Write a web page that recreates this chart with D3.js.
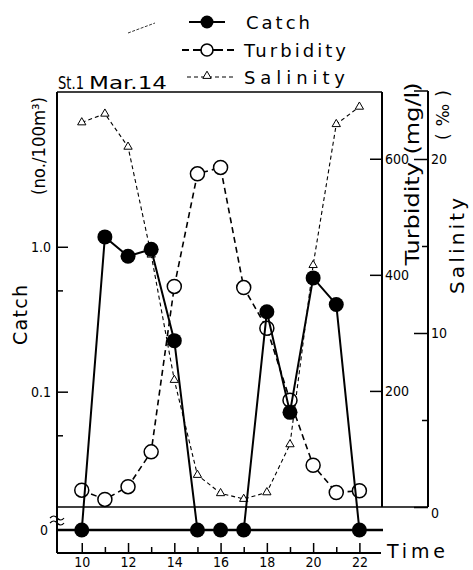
<!DOCTYPE html>
<html lang="en">
<head>
<meta charset="UTF-8">
<title>Catch, turbidity and salinity - St.1 Mar.14</title>
<style>
  body { margin: 0; background: #fff; }
  svg text { fill: #000; }
  .tick text { font-family: "Liberation Sans Narrow", "DejaVu Sans Condensed", "Liberation Sans", sans-serif; font-size: 14px; }
</style>
</head>
<body>
<script src="https://d3js.org/d3.v7.min.js"></script>
<script>
// data (hour of day)
const hours = [10, 11, 12, 13, 14, 15, 16, 17, 18, 19, 20, 21, 22];
const catchValues = [0, 1.17, 0.86, 0.96, 0.225, 0, 0, 0, 0.356, 0.072, 0.61, 0.40, 0];   // no./100m3, log scale
const turbidityValues = [29, 13, 35, 95, 380, 574, 585, 378, 308, 184, 72, 25, 28];      // mg/l
const salinityValues = [22.1, 22.6, 20.7, 14.5, 7.3, 1.84, 0.79, 0.46, 0.84, 3.6, 13.9, 22.0, 23.0]; // per mil

const timeTicks = [10, 12, 14, 16, 18, 20, 22];
const timeMinorTicks = [11, 13, 15, 17, 19, 21];
const catchTicks = [0.1, 1.0];
const catchMinorTicks = [0.05, 0.5];
const turbidityTicks = [200, 400, 600];
const salinityTicks = [0, 10, 20];
const salinityMinorTicks = [5, 15];
const legendNames = ["Catch", "Turbidity", "Salinity"];

const W = 473, H = 570;
const pLeft = 57, pRight = 383, pTop = 92, pBottom = 507;
const zeroY = 530, timeY = 553;
const turbX = 382, salX = 428;

const svg = d3.select("body").append("svg")
    .attr("width", W)
    .attr("height", H);

const x = d3.scaleLinear().domain([8.93, 23.02]).range([pLeft, pRight]);
const yCatch = d3.scaleLog().domain([0.016, 11.7]).range([pBottom, pTop]);
const yTurb = d3.scaleLinear().domain([0, 715]).range([pBottom, pTop]);
const ySal = d3.scaleLinear().domain([0, 23.85]).range([pBottom, pTop]);
const catchY = v => v === 0 ? zeroY : yCatch(v);

// frame lines
const frame = svg.append("g").attr("stroke", "#000").attr("fill", "none");
frame.append("line").attr("x1", pLeft).attr("x2", pLeft).attr("y1", pTop).attr("y2", timeY).attr("stroke-width", 2);
frame.append("line").attr("x1", pLeft).attr("x2", turbX).attr("y1", pTop).attr("y2", pTop).attr("stroke-width", 1.5);
frame.append("line").attr("x1", turbX).attr("x2", turbX).attr("y1", pTop).attr("y2", pBottom).attr("stroke-width", 2);
frame.append("line").attr("x1", salX).attr("x2", salX).attr("y1", pTop - 1).attr("y2", pBottom).attr("stroke-width", 2);
frame.append("line").attr("x1", salX - 14).attr("x2", salX).attr("y1", pTop - 1).attr("y2", pTop - 1).attr("stroke-width", 1.5);
frame.append("line").attr("x1", pLeft).attr("x2", salX).attr("y1", pBottom).attr("y2", pBottom).attr("stroke-width", 1.5);
frame.append("line").attr("x1", pLeft).attr("x2", pRight).attr("y1", zeroY).attr("y2", zeroY).attr("stroke-width", 2.5);
frame.append("line").attr("x1", pLeft).attr("x2", pRight - 2).attr("y1", timeY).attr("y2", timeY).attr("stroke-width", 2);

// axis break on the catch axis
[0, 5].forEach(function(off){
    frame.append("path")
        .attr("d", `M${pLeft - 7},${518 + off} q4,-4 7,0 q4,4 7,0`)
        .attr("stroke-width", 1.2);
});

function clean(g){
    g.select(".domain").remove();
    g.selectAll(".tick line").attr("stroke", "#000").attr("stroke-width", 1.5);
}

// time axis
svg.append("g").attr("transform", `translate(0,${timeY})`)
    .call(d3.axisBottom(x).tickValues(timeTicks).tickSize(-10).tickPadding(4).tickFormat(d3.format("d")))
    .call(clean);
svg.append("g").attr("transform", `translate(0,${timeY})`)
    .call(d3.axisBottom(x).tickValues(timeMinorTicks).tickSize(-6).tickFormat(""))
    .call(clean);

// catch axis (log)
svg.append("g").attr("transform", `translate(${pLeft},0)`)
    .call(d3.axisLeft(yCatch).tickValues(catchTicks).tickSize(-11).tickPadding(6).tickFormat(d => d.toFixed(1)))
    .call(clean);
svg.append("g").attr("transform", `translate(${pLeft},0)`)
    .call(d3.axisLeft(yCatch).tickValues(catchMinorTicks).tickSize(-6).tickFormat(""))
    .call(clean);
svg.append("text").attr("x", pLeft - 9).attr("y", zeroY + 5).attr("text-anchor", "end")
    .style("font-family", "Liberation Sans Narrow, DejaVu Sans Condensed, sans-serif").style("font-size", "14px")
    .text("0");

// turbidity axis
svg.append("g").attr("transform", `translate(${turbX},0)`)
    .call(d3.axisRight(yTurb).tickValues(turbidityTicks).tickSize(-12).tickPadding(3).tickFormat(d3.format("d")))
    .call(clean);

// salinity axis
svg.append("g").attr("transform", `translate(${salX},0)`)
    .call(d3.axisRight(ySal).tickValues(salinityTicks).tickSize(-14).tickPadding(3).tickFormat(d3.format("d")))
    .call(clean)
    .call(g => g.selectAll(".tick text").filter(d => d === 0).attr("dy", "0.75em"));
svg.append("g").attr("transform", `translate(${salX},0)`)
    .call(d3.axisRight(ySal).tickValues(salinityMinorTicks).tickSize(-6).tickFormat(""))
    .call(clean);

// series
const lineCatch = d3.line().x((d, i) => x(hours[i])).y(d => catchY(d));
const lineTurb = d3.line().x((d, i) => x(hours[i])).y(d => yTurb(d));
const lineSal = d3.line().x((d, i) => x(hours[i])).y(d => ySal(d));

svg.append("path").datum(salinityValues)
    .attr("d", lineSal).attr("fill", "none").attr("stroke", "#000")
    .attr("stroke-width", 1.1).attr("stroke-dasharray", "4,3");
svg.append("path").datum(turbidityValues)
    .attr("d", lineTurb).attr("fill", "none").attr("stroke", "#000")
    .attr("stroke-width", 1.6).attr("stroke-dasharray", "6,4");

const tri = d3.symbol().type(d3.symbolTriangle).size(30);
svg.selectAll(".sal").data(salinityValues).enter().append("path")
    .attr("class", "sal")
    .attr("d", tri)
    .attr("transform", (d, i) => `translate(${x(hours[i])},${ySal(d)})`)
    .attr("fill", "#fff").attr("stroke", "#000").attr("stroke-width", 1);

svg.selectAll(".turb").data(turbidityValues).enter().append("circle")
    .attr("class", "turb")
    .attr("cx", (d, i) => x(hours[i]))
    .attr("cy", d => yTurb(d))
    .attr("r", 7)
    .attr("fill", "#fff").attr("stroke", "#000").attr("stroke-width", 1.5);

svg.append("path").datum(catchValues)
    .attr("d", lineCatch).attr("fill", "none").attr("stroke", "#000").attr("stroke-width", 2);
svg.selectAll(".catch").data(catchValues).enter().append("circle")
    .attr("class", "catch")
    .attr("cx", (d, i) => x(hours[i]))
    .attr("cy", d => catchY(d))
    .attr("r", 7.5)
    .attr("fill", "#000");

// legend
const legend = svg.append("g");
const legY = [22, 50, 77];
const legText = [[246, 64], [244, 102], [244, 101]];
legendNames.forEach(function(name, i){
    const g = legend.append("g");
    if (i === 0) {
        g.append("line").attr("x1", 189).attr("x2", 225).attr("y1", legY[i]).attr("y2", legY[i])
            .attr("stroke", "#000").attr("stroke-width", 2);
        g.append("circle").attr("cx", 207).attr("cy", legY[i]).attr("r", 6.5).attr("fill", "#000");
    } else if (i === 1) {
        g.append("line").attr("x1", 182).attr("x2", 235).attr("y1", legY[i]).attr("y2", legY[i])
            .attr("stroke", "#000").attr("stroke-width", 1.8).attr("stroke-dasharray", "7,4,30,4");
        g.append("circle").attr("cx", 207).attr("cy", legY[i]).attr("r", 6)
            .attr("fill", "#fff").attr("stroke", "#000").attr("stroke-width", 1.6);
    } else {
        g.append("line").attr("x1", 187).attr("x2", 233).attr("y1", legY[i]).attr("y2", legY[i])
            .attr("stroke", "#000").attr("stroke-width", 1.1).attr("stroke-dasharray", "4,3");
        g.append("path").attr("d", tri).attr("transform", `translate(207,${legY[i] - 1})`)
            .attr("fill", "#fff").attr("stroke", "#000").attr("stroke-width", 1);
    }
    g.append("text").attr("x", legText[i][0]).attr("y", legY[i] + 7)
        .attr("textLength", legText[i][1]).attr("lengthAdjust", "spacing")
        .style("font-family", "DejaVu Sans, sans-serif").style("font-size", "18px")
        .text(name);
});

// stray pen mark near the title
svg.append("line").attr("x1", 128).attr("y1", 33).attr("x2", 155).attr("y2", 23)
    .attr("stroke", "#000").attr("stroke-width", 0.8).attr("stroke-dasharray", "3,1.5");

// titles and axis labels
const label = (t, xx, yy, size, len, rot) => {
    const el = svg.append("text")
        .attr("transform", `translate(${xx},${yy})` + (rot ? " rotate(-90)" : ""))
        .attr("text-anchor", "middle")
        .style("font-family", "DejaVu Sans, sans-serif").style("font-size", size + "px")
        .text(t);
    if (len) el.attr("textLength", len).attr("lengthAdjust", "spacingAndGlyphs");
    return el;
};
svg.append("text").attr("x", 58).attr("y", 89).attr("textLength", 26).attr("lengthAdjust", "spacingAndGlyphs")
    .style("font-family", "DejaVu Sans, sans-serif").style("font-size", "17px").text("St.1");
svg.append("text").attr("x", 89).attr("y", 89).attr("textLength", 78).attr("lengthAdjust", "spacingAndGlyphs")
    .style("font-family", "DejaVu Sans, sans-serif").style("font-size", "17px").text("Mar.14");

label("Catch", 27, 315, 19, 60, true).attr("lengthAdjust", "spacing");
label("(no./100m³)", 45, 146, 17, 98, true);
label("Turbidity (mg/l)", 419, 174, 19, 183, true);
label("Salinity", 464, 246, 20, 96, true).attr("lengthAdjust", "spacing");
label("(‰)", 449, 115, 17, 50, true).attr("lengthAdjust", "spacing");

svg.append("text").attr("x", 387).attr("y", 558).attr("textLength", 58).attr("lengthAdjust", "spacing")
    .style("font-family", "DejaVu Sans, sans-serif").style("font-size", "19px").text("Time");
</script>
</body>
</html>
